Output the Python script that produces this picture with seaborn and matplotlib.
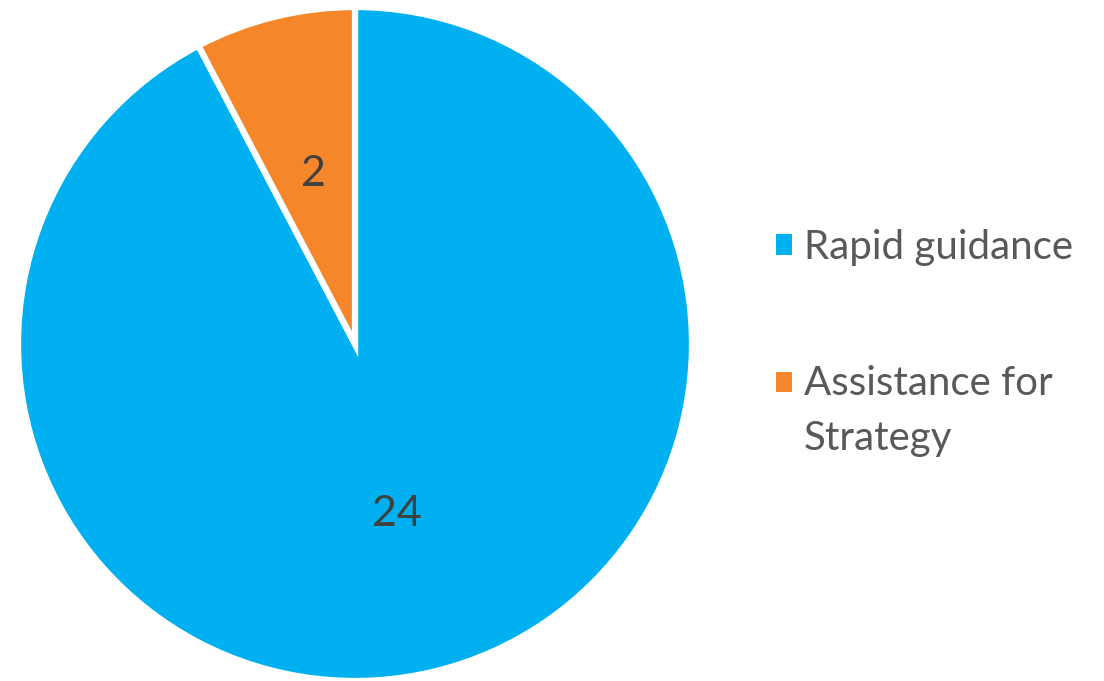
import matplotlib
matplotlib.use("Agg")
import matplotlib.pyplot as plt
from matplotlib.patches import Rectangle
from matplotlib.legend_handler import HandlerPatch
import seaborn as sns

# categories and counts
categories = ["Rapid guidance", "Assistance for\nStrategy"]
counts = [24, 2]
colors = ["#00B0F0", "#F5872A"]

sns.set_theme(style="white")
plt.rcParams["font.family"] = ["Lato", "DejaVu Sans"]

fig = plt.figure(figsize=(11.04, 6.81), dpi=100)
W, H = 1104, 681
cx, cy, r = 355, 344, 337
ax = fig.add_axes([(cx - r) / W, (H - cy - r) / H, 2 * r / W, 2 * r / H])

wedges, texts = ax.pie(
    counts,
    colors=colors,
    startangle=90,
    counterclock=False,
    labels=[str(c) for c in counts],
    labeldistance=0.52,
    wedgeprops={"edgecolor": "white", "linewidth": 4.5},
    textprops={"fontsize": 31, "color": "#404040", "ha": "center", "va": "center"},
)
ax.set_xlim(-1.0, 1.0)
ax.set_ylim(-1.0, 1.0)
ax.set_aspect("equal")


# put the square marker level with the first line of a wrapped label
def first_line_square(shift):
    def make(legend, orig_handle, xdescent, ydescent, width, height, fontsize):
        return Rectangle((-xdescent, -ydescent + shift), width, height)
    return make


leg = fig.legend(
    wedges, categories,
    loc="upper left",
    bbox_to_anchor=(776 / W, 1 - 229 / H),
    frameon=False,
    borderpad=0,
    borderaxespad=0,
    fontsize=29,
    handlelength=0.4,
    handleheight=0.4,
    handletextpad=0.3,
    labelspacing=2.45,
    labelcolor="#595959",
    handler_map={wedges[1]: HandlerPatch(patch_func=first_line_square(21))},
)
for h in leg.legend_handles:
    h.set_edgecolor("none")
leg.texts[1].set_linespacing(1.6)

fig.savefig("out.png", dpi=100)
